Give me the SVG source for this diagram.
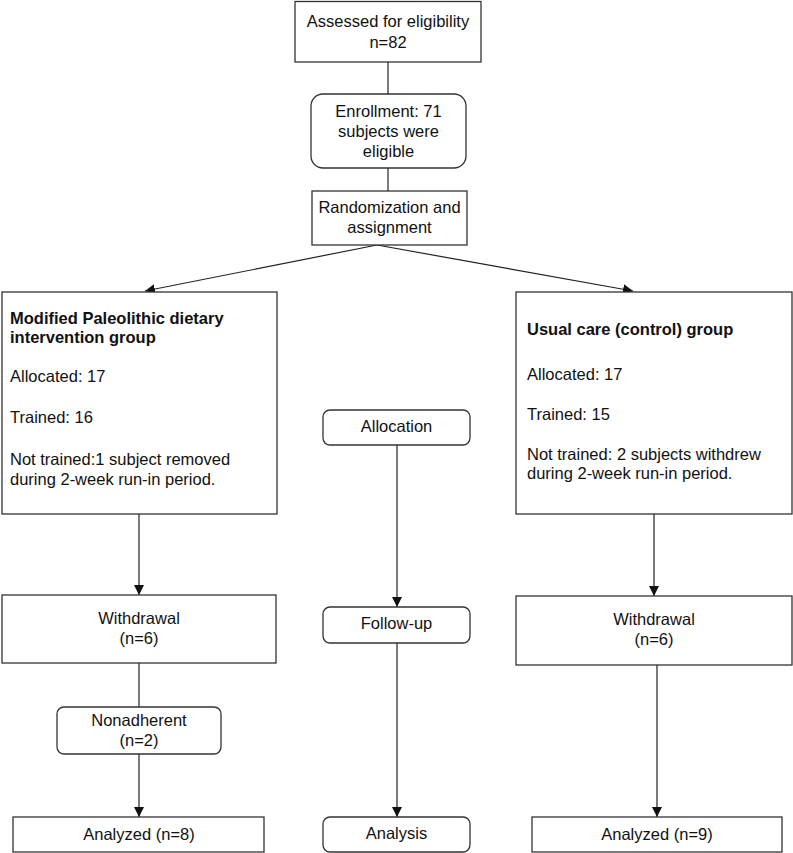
<svg xmlns="http://www.w3.org/2000/svg" width="793" height="853" viewBox="0 0 793 853">
<defs>
<style>
.box{fill:#fff;stroke:#333;stroke-width:1.3}
.ln{fill:none;stroke:#222;stroke-width:1.2}
text{font-family:"Liberation Sans",Arial,sans-serif;font-size:16.5px;fill:#111}
.c{text-anchor:middle}
.b{font-weight:bold}
</style>
<marker id="ah" markerUnits="userSpaceOnUse" markerWidth="10" markerHeight="10" refX="10" refY="5" orient="auto" viewBox="0 0 10 10">
<path d="M0,0 L10,5 L0,10 z" fill="#111"/>
</marker>
</defs>
<rect width="793" height="853" fill="#fff"/>
<g id="connectors">
<line class="ln" x1="388" y1="62" x2="388" y2="94"/>
<line class="ln" x1="388" y1="168" x2="388" y2="191"/>
<line class="ln" x1="377" y1="245" x2="145" y2="291" marker-end="url(#ah)"/>
<line class="ln" x1="377" y1="245" x2="633" y2="291" marker-end="url(#ah)"/>
<line class="ln" x1="139" y1="514" x2="139" y2="595" marker-end="url(#ah)"/>
<line class="ln" x1="139" y1="663" x2="139" y2="707"/>
<line class="ln" x1="139" y1="754" x2="139" y2="817" marker-end="url(#ah)"/>
<line class="ln" x1="397" y1="445" x2="397" y2="607" marker-end="url(#ah)"/>
<line class="ln" x1="397" y1="643" x2="397" y2="817" marker-end="url(#ah)"/>
<line class="ln" x1="654" y1="514" x2="654" y2="596" marker-end="url(#ah)"/>
<line class="ln" x1="657" y1="665" x2="657" y2="817" marker-end="url(#ah)"/>
</g>
<g id="assessed">
<rect class="box" x="295" y="1.5" width="186" height="60.5"/>
<text class="c" x="388" y="27">Assessed for eligibility</text>
<text class="c" x="388" y="48">n=82</text>
</g>
<g id="enrollment">
<rect class="box" x="311" y="94" width="155" height="74" rx="12"/>
<text class="c" x="388.5" y="117">Enrollment: 71</text>
<text class="c" x="388.5" y="137">subjects were</text>
<text class="c" x="388.5" y="157">eligible</text>
</g>
<g id="randomization">
<rect class="box" x="312" y="191" width="155" height="54"/>
<text class="c" x="389.5" y="213">Randomization and</text>
<text class="c" x="389.5" y="233">assignment</text>
</g>
<g id="intervention">
<rect class="box" x="2" y="292" width="275" height="222"/>
<text class="b" x="10" y="324">Modified Paleolithic dietary</text>
<text class="b" x="10" y="343">intervention group</text>
<text x="10" y="382">Allocated: 17</text>
<text x="10" y="423">Trained: 16</text>
<text x="10" y="465">Not trained:1 subject removed</text>
<text x="10" y="485">during 2-week run-in period.</text>
</g>
<g id="control">
<rect class="box" x="516" y="292" width="276" height="222"/>
<text class="b" x="527" y="335">Usual care (control) group</text>
<text x="527" y="380">Allocated: 17</text>
<text x="527" y="420">Trained: 15</text>
<text x="527" y="460">Not trained: 2 subjects withdrew</text>
<text x="527" y="479">during 2-week run-in period.</text>
</g>
<g id="allocation">
<rect class="box" x="323" y="410" width="147" height="35" rx="7"/>
<text class="c" x="396.5" y="432">Allocation</text>
</g>
<g id="followup">
<rect class="box" x="323" y="607" width="147" height="36" rx="7"/>
<text class="c" x="396.5" y="629">Follow-up</text>
</g>
<g id="analysis">
<rect class="box" x="323" y="817" width="147" height="35" rx="7"/>
<text class="c" x="396.5" y="839">Analysis</text>
</g>
<g id="withdrawal-left">
<rect class="box" x="2" y="595" width="274" height="68"/>
<text class="c" x="139" y="624">Withdrawal</text>
<text class="c" x="139" y="644">(n=6)</text>
</g>
<g id="nonadherent">
<rect class="box" x="57" y="707" width="164" height="47" rx="7"/>
<text class="c" x="139" y="726">Nonadherent</text>
<text class="c" x="139" y="746">(n=2)</text>
</g>
<g id="analyzed-left">
<rect class="box" x="13" y="817" width="251" height="35"/>
<text class="c" x="139" y="840">Analyzed (n=8)</text>
</g>
<g id="withdrawal-right">
<rect class="box" x="516" y="596" width="276" height="69"/>
<text class="c" x="654" y="625">Withdrawal</text>
<text class="c" x="654" y="645">(n=6)</text>
</g>
<g id="analyzed-right">
<rect class="box" x="532" y="817" width="250" height="35"/>
<text class="c" x="657" y="840">Analyzed (n=9)</text>
</g>
</svg>
